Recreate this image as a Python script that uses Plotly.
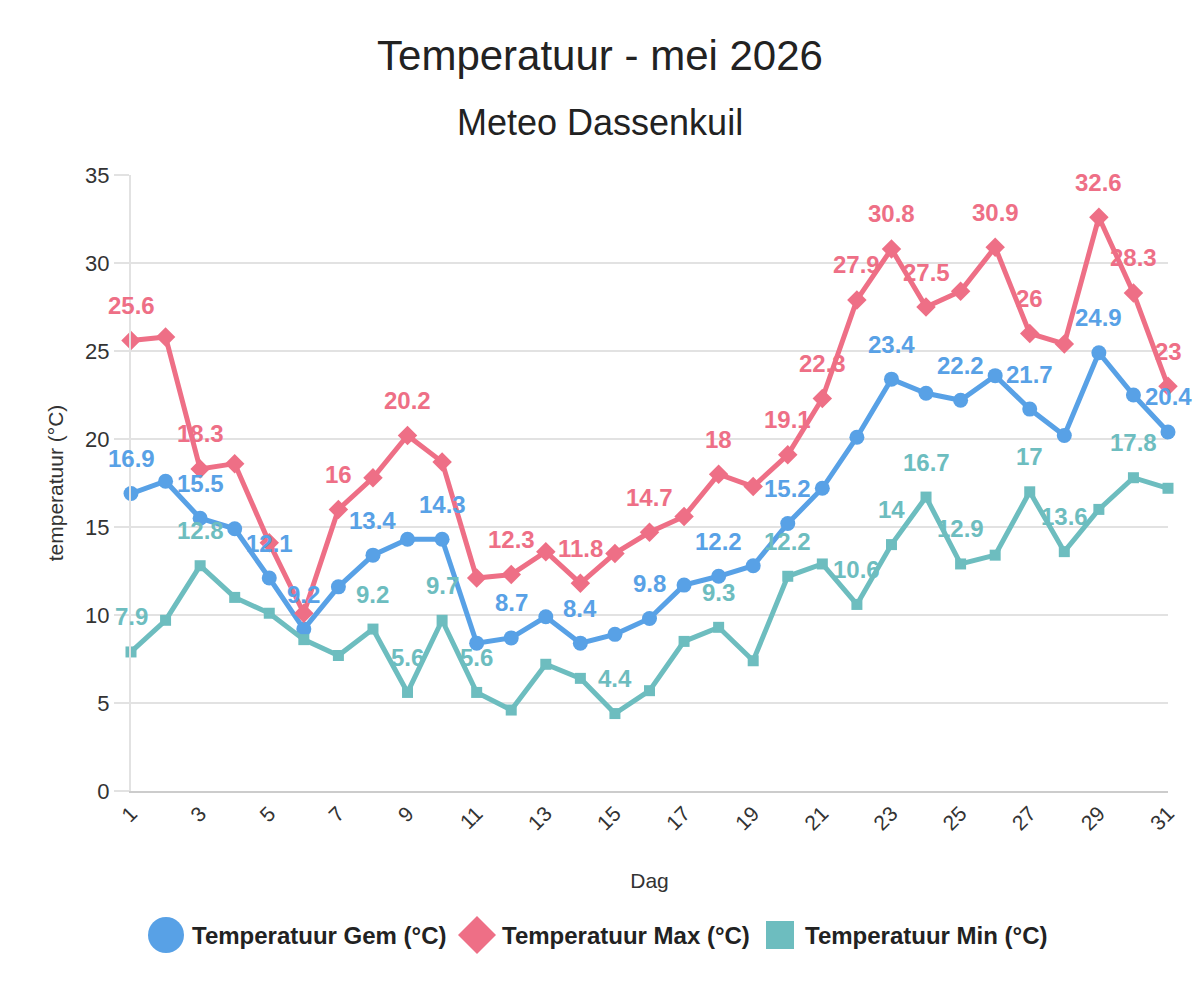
import plotly.graph_objects as go

days = list(range(1, 32))
temp_gem = [16.9, 17.6, 15.5, 14.9, 12.1, 9.2, 11.6, 13.4, 14.3, 14.3,
            8.4, 8.7, 9.9, 8.4, 8.9, 9.8, 11.7, 12.2, 12.8, 15.2,
            17.2, 20.1, 23.4, 22.6, 22.2, 23.6, 21.7, 20.2, 24.9, 22.5, 20.4]
temp_max = [25.6, 25.8, 18.3, 18.6, 14.1, 10.1, 16.0, 17.8, 20.2, 18.7,
            12.1, 12.3, 13.6, 11.8, 13.5, 14.7, 15.6, 18.0, 17.3, 19.1,
            22.3, 27.9, 30.8, 27.5, 28.4, 30.9, 26.0, 25.4, 32.6, 28.3, 23.0]
temp_min = [7.9, 9.7, 12.8, 11.0, 10.1, 8.6, 7.7, 9.2, 5.6, 9.7,
            5.6, 4.6, 7.2, 6.4, 4.4, 5.7, 8.5, 9.3, 7.4, 12.2,
            12.9, 10.6, 14.0, 16.7, 12.9, 13.4, 17.0, 13.6, 16.0, 17.8, 17.2]

# days whose value label is shown (others hidden to avoid overlap)
label_days_gem = [1, 3, 5, 6, 8, 10, 12, 14, 16, 18, 20, 23, 25, 27, 29, 31]
label_days_max = [1, 3, 7, 9, 12, 14, 16, 18, 20, 21, 22, 23, 24, 26, 27, 29, 30, 31]
label_days_min = [1, 3, 8, 9, 10, 11, 15, 18, 20, 22, 23, 24, 25, 27, 28, 30]

tick_days = list(range(1, 32, 2))

series_names = ["Temperatuur Gem (°C)", "Temperatuur Max (°C)", "Temperatuur Min (°C)"]
series = [
    (series_names[0], temp_gem, "#58A1E6", "circle", 15, label_days_gem),
    (series_names[1], temp_max, "#EE6F86", "diamond", 15, label_days_max),
    (series_names[2], temp_min, "#6DBDBF", "square", 11, label_days_min),
]

FONT = "Liberation Sans, Arial, sans-serif"

# plot-area geometry in pixels (for placing layout decorations in paper coords)
W, H = 1200, 1000
ML, MR, MT, MB = 131, 32, 175, 209
PW, PH = W - ML - MR, H - MT - MB


def px(xp):
    return (xp - ML) / PW


def py(yp):
    return (H - MB - yp) / PH


fig = go.Figure()
annotations = []
shapes = []
for name, vals, color, sym, msize, lbl_days in series:
    fig.add_trace(go.Scatter(
        x=days, y=vals, mode="lines+markers", name=name, showlegend=False,
        line=dict(color=color, width=5),
        marker=dict(color=color, symbol=sym, size=msize),
        cliponaxis=False,
    ))
    for d in lbl_days:
        v = vals[d - 1]
        annotations.append(dict(
            x=d, y=v, xref="x", yref="y", text=f"{v:g}", showarrow=False,
            yshift=35, font=dict(family=FONT, size=24, color=color, weight="bold"),
        ))

# custom legend (large symbols like the reference)
leg_y = 935
legend_items = [
    # (symbol centre x, half-size, text start x)
    (166, 18, 190),
    (477, 19, 500),
    (780, 14, 803),
]
for (cx, hs, tx), (name, vals, color, sym, msize, lbl_days) in zip(legend_items, series):
    if sym == "circle":
        shapes.append(dict(type="circle", xref="paper", yref="paper",
                           x0=px(cx - hs), x1=px(cx + hs), y0=py(leg_y + hs), y1=py(leg_y - hs),
                           fillcolor=color, line=dict(width=0)))
    elif sym == "diamond":
        path = (f"M {px(cx)},{py(leg_y - hs)} L {px(cx + hs)},{py(leg_y)} "
                f"L {px(cx)},{py(leg_y + hs)} L {px(cx - hs)},{py(leg_y)} Z")
        shapes.append(dict(type="path", xref="paper", yref="paper", path=path,
                           fillcolor=color, line=dict(width=0)))
    else:
        shapes.append(dict(type="rect", xref="paper", yref="paper",
                           x0=px(cx - hs), x1=px(cx + hs), y0=py(leg_y + hs), y1=py(leg_y - hs),
                           fillcolor=color, line=dict(width=0)))
    annotations.append(dict(
        text=name, xref="paper", yref="paper", x=px(tx), y=py(leg_y),
        xanchor="left", yanchor="middle", showarrow=False,
        font=dict(family=FONT, size=24, color="#222222", weight="bold"),
    ))

annotations.append(dict(
    text="Meteo Dassenkuil", xref="paper", yref="paper", x=px(600), y=py(123),
    xanchor="center", yanchor="middle", showarrow=False,
    font=dict(family=FONT, size=36, color="#222222"),
))

fig.update_layout(
    width=W, height=H,
    paper_bgcolor="white", plot_bgcolor="white",
    margin=dict(l=ML, r=MR, t=MT, b=MB),
    font=dict(family=FONT, color="#333333"),
    title=dict(text="Temperatuur - mei 2026", x=0.5, xanchor="center",
               yref="container", y=1 - 55 / 1000, yanchor="middle",
               font=dict(family=FONT, size=42, color="#222222")),
    annotations=annotations,
    shapes=shapes,
    showlegend=False,
    xaxis=dict(
        range=[1, 31], tickvals=tick_days, ticktext=[str(d) for d in tick_days],
        tickangle=-45, tickfont=dict(size=21, color="#333333"),
        showgrid=False, zeroline=False, showline=True, linecolor="#cccccc", linewidth=2,
        ticks="", title=dict(text="Dag", font=dict(size=21, color="#333333"), standoff=40),
    ),
    yaxis=dict(
        range=[0, 35], dtick=5, tickfont=dict(size=22, color="#333333"),
        showgrid=True, gridcolor="#e2e2e2", gridwidth=2, zeroline=False,
        showline=True, linecolor="#e2e2e2", linewidth=2,
        ticks="outside", ticklen=15, tickcolor="#e2e2e2", tickwidth=2,
        title=dict(text="temperatuur (°C)", font=dict(size=21, color="#333333"), standoff=16),
    ),
)

fig.write_html("out.html")
